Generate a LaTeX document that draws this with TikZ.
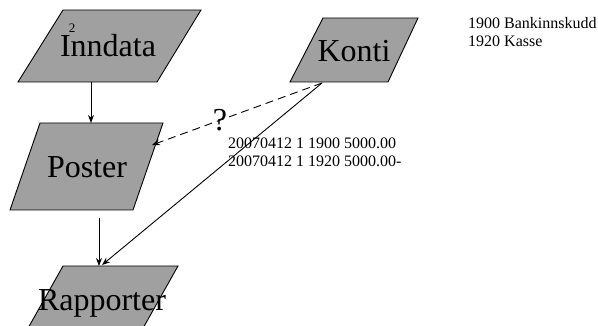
\documentclass[tikz,border=0pt]{standalone}
\usepackage{fontspec}
\setmainfont{Liberation Serif}
\usetikzlibrary{arrows.meta}
\begin{document}
\begin{tikzpicture}[x=1pt,y=-1pt,
  box/.style={fill={rgb,255:red,160;green,160;blue,160},draw=black,line width=0.9pt},
  big/.style={font=\fontsize{32}{36}\selectfont,anchor=base,inner sep=0pt},
  small/.style={font=\fontsize{16}{18}\selectfont,anchor=base west,inner sep=0pt,align=left},
  conn/.style={line width=0.9pt,-{Stealth[length=8pt,width=6pt]}},
  dconn/.style={conn,dash pattern=on 8pt off 5pt}]
\useasboundingbox (0,0) rectangle (598,326);
% shapes
\draw[box] (63,10) -- (201,10) -- (157,82) -- (18,82) -- cycle;
\draw[box] (40,123) -- (163,123) -- (133,210) -- (10,210) -- cycle;
\draw[box] (323,18) -- (418,18) -- (388,82) -- (290,82) -- cycle;
\draw[box] (63,266) -- (178,266) -- (142,330) -- (27,330) -- cycle;
% texts
\node[big] (inndata) at (108,57) {Inndata};
\node[font=\fontsize{13}{14}\selectfont,inner sep=0pt,anchor=base] (fn) at (72,33) {2};
\node[big] (poster) at (87,178) {Poster};
\node[big] (konti) at (354,62) {Konti};
\node[big] (rapporter) at (102,310) {Rapporter};
\node[small] (trans) at (228,167) {20070412 1 1900 5000.00\\20070412 1 1920 5000.00-};
\node[small] (accts) at (468,47) {1900 Bankinnskudd\\1920 Kasse};
% connection points
\coordinate (inB) at (91,82);
\coordinate (poT) at (91,123);
\coordinate (poB) at (99,218);
\coordinate (raT) at (99,266);
\coordinate (koB) at (322,83);
\coordinate (poR) at (152,145);
\coordinate (raT2) at (102,265);
% connectors
\draw[conn] (inB) -- (poT);
\draw[conn] (poB) -- (raT);
\draw[conn] (koB) -- (raT2);
\draw[dconn] (koB) -- (poR);
\node[big] (q) at (220,131) {?};
\end{tikzpicture}
\end{document}
